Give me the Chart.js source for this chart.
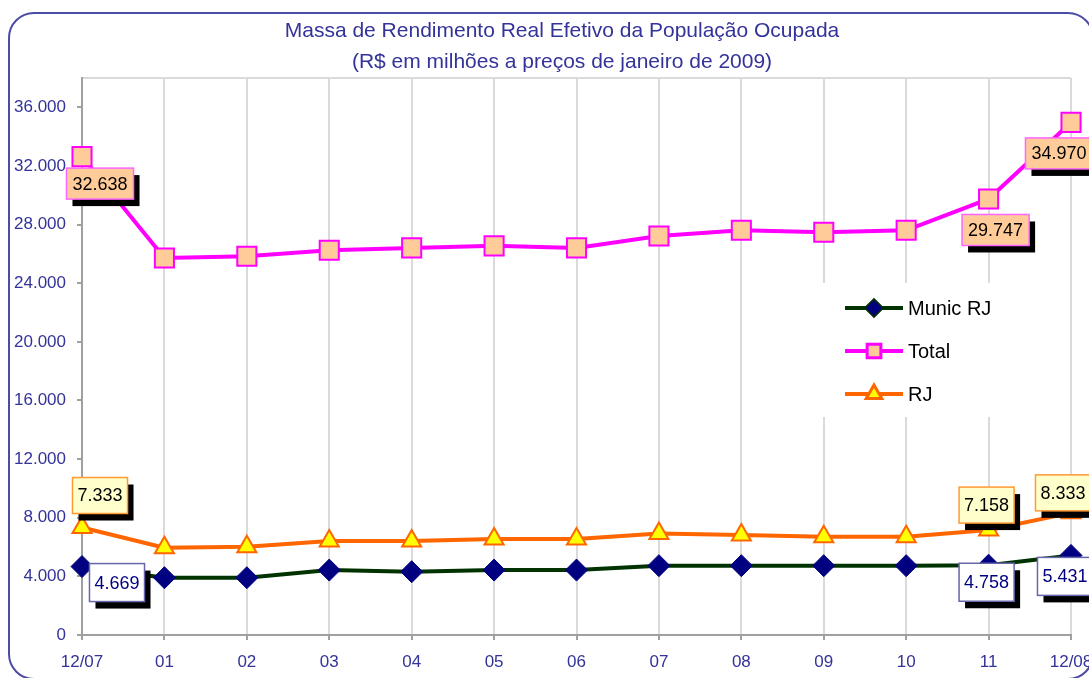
<!DOCTYPE html>
<html>
<head>
<meta charset="utf-8">
<title>Massa de Rendimento Real Efetivo</title>
<script src="https://cdn.jsdelivr.net/npm/chart.js@4/dist/chart.umd.min.js"></script>
<style>
  html, body { margin: 0; padding: 0; background: #fff; overflow: hidden; }
  body { width: 1089px; height: 678px; position: relative; }
  #frame {
    position: absolute; left: 8px; top: 12px; width: 1086px; height: 668px;
    border: 2px solid #4c4ca6; border-radius: 26px; box-sizing: border-box;
  }
  #wrap { position: absolute; left: 0; top: 0; width: 1124px; height: 700px; }
</style>
</head>
<body>
<div id="frame"></div>
<div id="wrap"><canvas id="chart" width="1124" height="700"></canvas></div>
<script>
const categories = ['12/07', '01', '02', '03', '04', '05', '06', '07', '08', '09', '10', '11', '12/08']
const municRJ = [4669, 3910, 3910, 4430, 4320, 4430, 4430, 4730, 4730, 4730, 4730, 4758, 5431]
const total = [32638, 25720, 25840, 26250, 26410, 26550, 26410, 27220, 27610, 27480, 27610, 29747, 34970]
const rj = [7333, 5950, 6020, 6410, 6410, 6550, 6550, 6930, 6820, 6700, 6700, 7158, 8333]
const yTicks = [0, 4000, 8000, 12000, 16000, 20000, 24000, 28000, 32000, 36000]
const yMax = 38000
const titleLines = ['Massa de Rendimento Real Efetivo da População Ocupada', '(R$ em milhões a preços de janeiro de 2009)']

const FONT = '"Liberation Sans", Arial, sans-serif'
const AXIS_BLUE = '#333399'

function fmt (v) {
  return String(v).replace(/\B(?=(\d{3})+(?!\d))/g, '.')
}

// boxed value labels with a black drop shadow (first, 11 and last points)
const boxLabels = {
  id: 'boxLabels',
  afterDatasetsDraw (chart, args, opts) {
    const ctx = chart.ctx
    chart.data.datasets.forEach((ds, di) => {
      const cfg = opts.sets[di]
      if (!cfg) return
      const meta = chart.getDatasetMeta(di)
      cfg.points.forEach(pt => {
        const el = meta.data[pt.i]
        const text = fmt(ds.data[pt.i])
        ctx.save()
        ctx.font = '18px ' + FONT
        const w = ctx.measureText(text).width + cfg.padX * 2
        const h = cfg.h
        const x = el.x + pt.dx - w / 2
        const y = el.y + pt.dy - h / 2
        ctx.fillStyle = '#000'
        ctx.fillRect(x + 6, y + 7, w, h)
        ctx.fillStyle = cfg.fill
        ctx.fillRect(x, y, w, h)
        ctx.strokeStyle = cfg.border
        ctx.lineWidth = 1.5
        ctx.strokeRect(x, y, w, h)
        ctx.fillStyle = cfg.color
        ctx.textAlign = 'center'
        ctx.textBaseline = 'middle'
        ctx.fillText(text, x + w / 2, y + h / 2 + 1)
        ctx.restore()
      })
    })
  }
}

// legend box drawn over the grid, inside the plot area
const boxLegend = {
  id: 'boxLegend',
  beforeDatasetsDraw (chart, args, opts) {
    const ctx = chart.ctx
    ctx.save()
    ctx.fillStyle = '#fff'
    ctx.fillRect(opts.x, opts.y, opts.w, opts.h)
    chart.data.datasets.forEach((ds, i) => {
      const cy = opts.y + opts.firstRow + i * opts.rowGap
      const lx = opts.x + opts.lineX
      ctx.strokeStyle = ds.borderColor
      ctx.lineWidth = 4
      ctx.beginPath()
      ctx.moveTo(lx, cy)
      ctx.lineTo(lx + opts.lineLen, cy)
      ctx.stroke()
      Chart.helpers.drawPoint(ctx, {
        pointStyle: ds.pointStyle,
        radius: opts.markerRadius[i],
        rotation: 0,
        borderWidth: ds.pointBorderWidth
      }, lx + opts.lineLen / 2, cy)
      ctx.fillStyle = ds.pointBackgroundColor
      ctx.strokeStyle = ds.pointBorderColor
      ctx.lineWidth = ds.pointBorderWidth
      ctx.fill()
      ctx.stroke()
      ctx.fillStyle = '#000'
      ctx.font = '20px ' + FONT
      ctx.textBaseline = 'middle'
      ctx.fillText(ds.label, lx + opts.lineLen + 5, cy + 1)
    })
    ctx.restore()
  }
}

const canvas = document.getElementById('chart')
const chart = new Chart(canvas, {
  type: 'line',
  data: {
    labels: categories,
    datasets: [
      {
        label: 'Munic RJ',
        data: municRJ,
        borderColor: '#003300',
        borderWidth: 4,
        pointStyle: 'rectRot',
        pointRadius: 11,
        pointBackgroundColor: '#000080',
        pointBorderColor: '#000080',
        pointBorderWidth: 1
      },
      {
        label: 'Total',
        data: total,
        borderColor: '#ff00ff',
        borderWidth: 4,
        pointStyle: 'rect',
        pointRadius: 13.5,
        pointBackgroundColor: '#ffcc99',
        pointBorderColor: '#ff00ff',
        pointBorderWidth: 2
      },
      {
        label: 'RJ',
        data: rj,
        borderColor: '#ff6600',
        borderWidth: 4,
        pointStyle: 'triangle',
        pointRadius: 11,
        pointBackgroundColor: '#ffff00',
        pointBorderColor: '#ff6600',
        pointBorderWidth: 2
      }
    ]
  },
  options: {
    responsive: false,
    animation: false,
    layout: { padding: 0 },
    elements: { line: { tension: 0 } },
    plugins: {
      legend: { display: false },
      tooltip: { enabled: false },
      title: {
        display: true,
        text: titleLines,
        color: AXIS_BLUE,
        font: { family: FONT, size: 21, weight: 'normal', lineHeight: 1.5 },
        padding: { top: 15, bottom: 0 }
      },
      boxLegend: {
        x: 820, y: 283, w: 190, h: 134,
        firstRow: 25, rowGap: 43,
        lineX: 25, lineLen: 58,
        markerRadius: [7.5, 9, 8]
      },
      boxLabels: {
        sets: [
          {
            fill: '#ffffff', border: '#6666aa', color: '#000080', h: 38, padX: 5,
            points: [{ i: 0, dx: 35, dy: 16 }, { i: 11, dx: -2, dy: 17 }, { i: 12, dx: -6, dy: 21 }]
          },
          {
            fill: '#ffcc99', border: '#ff66ff', color: '#000', h: 31, padX: 6,
            points: [{ i: 0, dx: 18, dy: 27 }, { i: 11, dx: 7, dy: 31 }, { i: 12, dx: -12, dy: 31 }]
          },
          {
            fill: '#ffffcc', border: '#ff9933', color: '#000', h: 36, padX: 5,
            points: [{ i: 0, dx: 18, dy: -32 }, { i: 11, dx: -2, dy: -25 }, { i: 12, dx: -8, dy: -20 }]
          }
        ]
      }
    },
    scales: {
      x: {
        offset: false,
        afterFit (s) { s.height = 65 },
        grid: {
          offset: false,
          color: '#dadada',
          lineWidth: 2,
          tickLength: 5,
          tickColor: '#a0a0a0',
          tickWidth: 2
        },
        border: { display: true, color: '#a0a0a0', width: 2 },
        ticks: {
          color: AXIS_BLUE,
          padding: 12,
          maxRotation: 0,
          autoSkip: false,
          font: { family: FONT, size: 17 }
        }
      },
      y: {
        min: 0,
        max: yMax,
        afterFit (s) { s.width = 82 },
        afterBuildTicks (s) {
          s.ticks = yTicks.concat([yMax]).map(v => ({ value: v }))
        },
        grid: {
          color: c => (c.tick && c.tick.value === yMax ? '#dadada' : 'rgba(0,0,0,0)'),
          lineWidth: 2,
          tickLength: 5,
          tickColor: c => (c.tick && c.tick.value === yMax ? 'rgba(0,0,0,0)' : '#a0a0a0'),
          tickWidth: 2
        },
        border: { display: true, color: '#a0a0a0', width: 2 },
        ticks: {
          color: AXIS_BLUE,
          padding: 11,
          font: { family: FONT, size: 17 },
          callback: v => (v === yMax ? '' : fmt(v))
        }
      },
      y2: {
        position: 'right',
        display: true,
        afterFit (s) { s.width = 53 },
        grid: { display: false },
        border: { display: false },
        ticks: { display: false }
      }
    }
  },
  plugins: [boxLegend, boxLabels]
})
</script>
</body>
</html>
